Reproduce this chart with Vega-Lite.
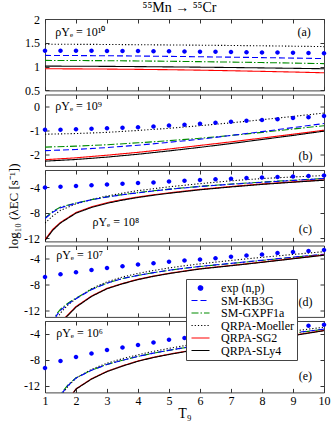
{
"$schema": "https://vega.github.io/schema/vega-lite/v6.json",
"padding": {"left": 6, "top": 0, "right": 4, "bottom": 2},
"title": {"text": "⁵⁵Mn → ⁵⁵Cr", "anchor": "middle", "frame": "group", "fontSize": 14, "fontWeight": "normal", "font": "Liberation Serif", "offset": -2, "dx": -5, "color": "black"},
"bounds": "flush",
"spacing": 3.5,
"data": {"values": [
{"panel":"a","series":"exp (n,p)","T9":1,"v":1.335},{"panel":"a","series":"exp (n,p)","T9":1.5,"v":1.335},{"panel":"a","series":"exp (n,p)","T9":2,"v":1.333},{"panel":"a","series":"exp (n,p)","T9":2.5,"v":1.332},{"panel":"a","series":"exp (n,p)","T9":3,"v":1.33},{"panel":"a","series":"exp (n,p)","T9":3.5,"v":1.328},{"panel":"a","series":"exp (n,p)","T9":4,"v":1.326},{"panel":"a","series":"exp (n,p)","T9":4.5,"v":1.323},{"panel":"a","series":"exp (n,p)","T9":5,"v":1.32},{"panel":"a","series":"exp (n,p)","T9":5.5,"v":1.317},{"panel":"a","series":"exp (n,p)","T9":6,"v":1.313},{"panel":"a","series":"exp (n,p)","T9":6.5,"v":1.31},{"panel":"a","series":"exp (n,p)","T9":7,"v":1.306},{"panel":"a","series":"exp (n,p)","T9":7.5,"v":1.302},{"panel":"a","series":"exp (n,p)","T9":8,"v":1.298},{"panel":"a","series":"exp (n,p)","T9":8.5,"v":1.294},{"panel":"a","series":"exp (n,p)","T9":9,"v":1.29},{"panel":"a","series":"exp (n,p)","T9":9.5,"v":1.285},{"panel":"a","series":"exp (n,p)","T9":10,"v":1.28},
{"panel":"a","series":"QRPA-Moeller","T9":1,"v":1.47},{"panel":"a","series":"QRPA-Moeller","T9":2,"v":1.468},{"panel":"a","series":"QRPA-Moeller","T9":3,"v":1.465},{"panel":"a","series":"QRPA-Moeller","T9":4,"v":1.46},{"panel":"a","series":"QRPA-Moeller","T9":5,"v":1.455},{"panel":"a","series":"QRPA-Moeller","T9":6,"v":1.45},{"panel":"a","series":"QRPA-Moeller","T9":7,"v":1.444},{"panel":"a","series":"QRPA-Moeller","T9":8,"v":1.437},{"panel":"a","series":"QRPA-Moeller","T9":9,"v":1.429},{"panel":"a","series":"QRPA-Moeller","T9":10,"v":1.42},
{"panel":"a","series":"SM-GXPF1a","T9":1,"v":1.13},{"panel":"a","series":"SM-GXPF1a","T9":2,"v":1.128},{"panel":"a","series":"SM-GXPF1a","T9":3,"v":1.124},{"panel":"a","series":"SM-GXPF1a","T9":4,"v":1.119},{"panel":"a","series":"SM-GXPF1a","T9":5,"v":1.112},{"panel":"a","series":"SM-GXPF1a","T9":6,"v":1.104},{"panel":"a","series":"SM-GXPF1a","T9":7,"v":1.095},{"panel":"a","series":"SM-GXPF1a","T9":8,"v":1.085},{"panel":"a","series":"SM-GXPF1a","T9":9,"v":1.074},{"panel":"a","series":"SM-GXPF1a","T9":10,"v":1.062},
{"panel":"a","series":"SM-KB3G","T9":1,"v":1.235},{"panel":"a","series":"SM-KB3G","T9":2,"v":1.232},{"panel":"a","series":"SM-KB3G","T9":3,"v":1.228},{"panel":"a","series":"SM-KB3G","T9":4,"v":1.222},{"panel":"a","series":"SM-KB3G","T9":5,"v":1.215},{"panel":"a","series":"SM-KB3G","T9":6,"v":1.207},{"panel":"a","series":"SM-KB3G","T9":7,"v":1.198},{"panel":"a","series":"SM-KB3G","T9":8,"v":1.189},{"panel":"a","series":"SM-KB3G","T9":9,"v":1.179},{"panel":"a","series":"SM-KB3G","T9":10,"v":1.168},
{"panel":"a","series":"QRPA-SG2","T9":1,"v":0.955},{"panel":"a","series":"QRPA-SG2","T9":2,"v":0.952},{"panel":"a","series":"QRPA-SG2","T9":3,"v":0.948},{"panel":"a","series":"QRPA-SG2","T9":4,"v":0.942},{"panel":"a","series":"QRPA-SG2","T9":5,"v":0.935},{"panel":"a","series":"QRPA-SG2","T9":6,"v":0.925},{"panel":"a","series":"QRPA-SG2","T9":7,"v":0.913},{"panel":"a","series":"QRPA-SG2","T9":8,"v":0.9},{"panel":"a","series":"QRPA-SG2","T9":9,"v":0.886},{"panel":"a","series":"QRPA-SG2","T9":10,"v":0.87},
{"panel":"a","series":"QRPA-SLy4","T9":1,"v":1.01},{"panel":"a","series":"QRPA-SLy4","T9":2,"v":1.008},{"panel":"a","series":"QRPA-SLy4","T9":3,"v":1.005},{"panel":"a","series":"QRPA-SLy4","T9":4,"v":1.0},{"panel":"a","series":"QRPA-SLy4","T9":5,"v":0.994},{"panel":"a","series":"QRPA-SLy4","T9":6,"v":0.988},{"panel":"a","series":"QRPA-SLy4","T9":7,"v":0.981},{"panel":"a","series":"QRPA-SLy4","T9":8,"v":0.973},{"panel":"a","series":"QRPA-SLy4","T9":9,"v":0.964},{"panel":"a","series":"QRPA-SLy4","T9":10,"v":0.955},

{"panel":"b","series":"exp (n,p)","T9":1,"v":-0.986},{"panel":"b","series":"exp (n,p)","T9":1.5,"v":-0.986},{"panel":"b","series":"exp (n,p)","T9":2,"v":-0.957},{"panel":"b","series":"exp (n,p)","T9":2.5,"v":-0.943},{"panel":"b","series":"exp (n,p)","T9":3,"v":-0.914},{"panel":"b","series":"exp (n,p)","T9":3.5,"v":-0.9},{"panel":"b","series":"exp (n,p)","T9":4,"v":-0.871},{"panel":"b","series":"exp (n,p)","T9":4.5,"v":-0.843},{"panel":"b","series":"exp (n,p)","T9":5,"v":-0.8},{"panel":"b","series":"exp (n,p)","T9":5.5,"v":-0.771},{"panel":"b","series":"exp (n,p)","T9":6,"v":-0.729},{"panel":"b","series":"exp (n,p)","T9":6.5,"v":-0.686},{"panel":"b","series":"exp (n,p)","T9":7,"v":-0.643},{"panel":"b","series":"exp (n,p)","T9":7.5,"v":-0.6},{"panel":"b","series":"exp (n,p)","T9":8,"v":-0.571},{"panel":"b","series":"exp (n,p)","T9":8.5,"v":-0.543},{"panel":"b","series":"exp (n,p)","T9":9,"v":-0.486},{"panel":"b","series":"exp (n,p)","T9":9.5,"v":-0.457},{"panel":"b","series":"exp (n,p)","T9":10,"v":-0.4},
{"panel":"b","series":"QRPA-Moeller","T9":1,"v":-1.17},{"panel":"b","series":"QRPA-Moeller","T9":2,"v":-1.14},{"panel":"b","series":"QRPA-Moeller","T9":3,"v":-1.09},{"panel":"b","series":"QRPA-Moeller","T9":4,"v":-1.01},{"panel":"b","series":"QRPA-Moeller","T9":5,"v":-0.92},{"panel":"b","series":"QRPA-Moeller","T9":6,"v":-0.81},{"panel":"b","series":"QRPA-Moeller","T9":7,"v":-0.69},{"panel":"b","series":"QRPA-Moeller","T9":8,"v":-0.56},{"panel":"b","series":"QRPA-Moeller","T9":9,"v":-0.42},{"panel":"b","series":"QRPA-Moeller","T9":10,"v":-0.28},
{"panel":"b","series":"SM-GXPF1a","T9":1,"v":-1.71},{"panel":"b","series":"SM-GXPF1a","T9":2,"v":-1.67},{"panel":"b","series":"SM-GXPF1a","T9":3,"v":-1.61},{"panel":"b","series":"SM-GXPF1a","T9":4,"v":-1.53},{"panel":"b","series":"SM-GXPF1a","T9":5,"v":-1.44},{"panel":"b","series":"SM-GXPF1a","T9":6,"v":-1.34},{"panel":"b","series":"SM-GXPF1a","T9":7,"v":-1.22},{"panel":"b","series":"SM-GXPF1a","T9":8,"v":-1.09},{"panel":"b","series":"SM-GXPF1a","T9":9,"v":-0.95},{"panel":"b","series":"SM-GXPF1a","T9":10,"v":-0.81},
{"panel":"b","series":"SM-KB3G","T9":1,"v":-1.86},{"panel":"b","series":"SM-KB3G","T9":2,"v":-1.81},{"panel":"b","series":"SM-KB3G","T9":3,"v":-1.73},{"panel":"b","series":"SM-KB3G","T9":4,"v":-1.63},{"panel":"b","series":"SM-KB3G","T9":5,"v":-1.51},{"panel":"b","series":"SM-KB3G","T9":6,"v":-1.38},{"panel":"b","series":"SM-KB3G","T9":7,"v":-1.22},{"panel":"b","series":"SM-KB3G","T9":8,"v":-1.06},{"panel":"b","series":"SM-KB3G","T9":9,"v":-0.89},{"panel":"b","series":"SM-KB3G","T9":10,"v":-0.72},
{"panel":"b","series":"QRPA-SG2","T9":1,"v":-2.24},{"panel":"b","series":"QRPA-SG2","T9":2,"v":-2.16},{"panel":"b","series":"QRPA-SG2","T9":3,"v":-2.05},{"panel":"b","series":"QRPA-SG2","T9":4,"v":-1.93},{"panel":"b","series":"QRPA-SG2","T9":5,"v":-1.79},{"panel":"b","series":"QRPA-SG2","T9":6,"v":-1.64},{"panel":"b","series":"QRPA-SG2","T9":7,"v":-1.49},{"panel":"b","series":"QRPA-SG2","T9":8,"v":-1.33},{"panel":"b","series":"QRPA-SG2","T9":9,"v":-1.17},{"panel":"b","series":"QRPA-SG2","T9":10,"v":-1.0},
{"panel":"b","series":"QRPA-SLy4","T9":1,"v":-2.3},{"panel":"b","series":"QRPA-SLy4","T9":2,"v":-2.23},{"panel":"b","series":"QRPA-SLy4","T9":3,"v":-2.13},{"panel":"b","series":"QRPA-SLy4","T9":4,"v":-2.01},{"panel":"b","series":"QRPA-SLy4","T9":5,"v":-1.87},{"panel":"b","series":"QRPA-SLy4","T9":6,"v":-1.72},{"panel":"b","series":"QRPA-SLy4","T9":7,"v":-1.56},{"panel":"b","series":"QRPA-SLy4","T9":8,"v":-1.39},{"panel":"b","series":"QRPA-SLy4","T9":9,"v":-1.22},{"panel":"b","series":"QRPA-SLy4","T9":10,"v":-1.04},

{"panel":"c","series":"exp (n,p)","T9":1,"v":-4.0},{"panel":"c","series":"exp (n,p)","T9":1.5,"v":-3.9},{"panel":"c","series":"exp (n,p)","T9":2,"v":-3.78},{"panel":"c","series":"exp (n,p)","T9":2.5,"v":-3.66},{"panel":"c","series":"exp (n,p)","T9":3,"v":-3.55},{"panel":"c","series":"exp (n,p)","T9":3.5,"v":-3.4},{"panel":"c","series":"exp (n,p)","T9":4,"v":-3.3},{"panel":"c","series":"exp (n,p)","T9":4.5,"v":-3.2},{"panel":"c","series":"exp (n,p)","T9":5,"v":-3.05},{"panel":"c","series":"exp (n,p)","T9":5.5,"v":-2.94},{"panel":"c","series":"exp (n,p)","T9":6,"v":-2.83},{"panel":"c","series":"exp (n,p)","T9":6.5,"v":-2.72},{"panel":"c","series":"exp (n,p)","T9":7,"v":-2.62},{"panel":"c","series":"exp (n,p)","T9":7.5,"v":-2.51},{"panel":"c","series":"exp (n,p)","T9":8,"v":-2.44},{"panel":"c","series":"exp (n,p)","T9":8.5,"v":-2.35},{"panel":"c","series":"exp (n,p)","T9":9,"v":-2.28},{"panel":"c","series":"exp (n,p)","T9":9.5,"v":-2.18},{"panel":"c","series":"exp (n,p)","T9":10,"v":-2.12},
{"panel":"c","series":"QRPA-Moeller","T9":1,"v":-9.6},{"panel":"c","series":"QRPA-Moeller","T9":1.25,"v":-8.5},{"panel":"c","series":"QRPA-Moeller","T9":1.5,"v":-7.6},{"panel":"c","series":"QRPA-Moeller","T9":2,"v":-6.6},{"panel":"c","series":"QRPA-Moeller","T9":2.5,"v":-5.9},{"panel":"c","series":"QRPA-Moeller","T9":3,"v":-5.35},{"panel":"c","series":"QRPA-Moeller","T9":3.5,"v":-4.9},{"panel":"c","series":"QRPA-Moeller","T9":4,"v":-4.5},{"panel":"c","series":"QRPA-Moeller","T9":4.5,"v":-4.2},{"panel":"c","series":"QRPA-Moeller","T9":5,"v":-3.9},{"panel":"c","series":"QRPA-Moeller","T9":6,"v":-3.4},{"panel":"c","series":"QRPA-Moeller","T9":7,"v":-2.95},{"panel":"c","series":"QRPA-Moeller","T9":8,"v":-2.6},{"panel":"c","series":"QRPA-Moeller","T9":9,"v":-2.35},{"panel":"c","series":"QRPA-Moeller","T9":10,"v":-2.12},
{"panel":"c","series":"SM-GXPF1a","T9":1,"v":-8.8},{"panel":"c","series":"SM-GXPF1a","T9":1.25,"v":-7.8},{"panel":"c","series":"SM-GXPF1a","T9":1.5,"v":-7.1},{"panel":"c","series":"SM-GXPF1a","T9":2,"v":-6.45},{"panel":"c","series":"SM-GXPF1a","T9":2.5,"v":-5.92},{"panel":"c","series":"SM-GXPF1a","T9":3,"v":-5.48},{"panel":"c","series":"SM-GXPF1a","T9":3.5,"v":-5.12},{"panel":"c","series":"SM-GXPF1a","T9":4,"v":-4.82},{"panel":"c","series":"SM-GXPF1a","T9":4.5,"v":-4.52},{"panel":"c","series":"SM-GXPF1a","T9":5,"v":-4.27},{"panel":"c","series":"SM-GXPF1a","T9":6,"v":-3.82},{"panel":"c","series":"SM-GXPF1a","T9":7,"v":-3.46},{"panel":"c","series":"SM-GXPF1a","T9":8,"v":-3.15},{"panel":"c","series":"SM-GXPF1a","T9":9,"v":-2.86},{"panel":"c","series":"SM-GXPF1a","T9":10,"v":-2.58},
{"panel":"c","series":"SM-KB3G","T9":1,"v":-8.9},{"panel":"c","series":"SM-KB3G","T9":1.25,"v":-7.9},{"panel":"c","series":"SM-KB3G","T9":1.5,"v":-7.2},{"panel":"c","series":"SM-KB3G","T9":2,"v":-6.5},{"panel":"c","series":"SM-KB3G","T9":2.5,"v":-5.95},{"panel":"c","series":"SM-KB3G","T9":3,"v":-5.5},{"panel":"c","series":"SM-KB3G","T9":3.5,"v":-5.15},{"panel":"c","series":"SM-KB3G","T9":4,"v":-4.85},{"panel":"c","series":"SM-KB3G","T9":4.5,"v":-4.55},{"panel":"c","series":"SM-KB3G","T9":5,"v":-4.3},{"panel":"c","series":"SM-KB3G","T9":6,"v":-3.85},{"panel":"c","series":"SM-KB3G","T9":7,"v":-3.5},{"panel":"c","series":"SM-KB3G","T9":8,"v":-3.2},{"panel":"c","series":"SM-KB3G","T9":9,"v":-2.9},{"panel":"c","series":"SM-KB3G","T9":10,"v":-2.6},
{"panel":"c","series":"QRPA-SG2","T9":1,"v":-12.2},{"panel":"c","series":"QRPA-SG2","T9":1.25,"v":-10.6},{"panel":"c","series":"QRPA-SG2","T9":1.5,"v":-9.5},{"panel":"c","series":"QRPA-SG2","T9":2,"v":-7.95},{"panel":"c","series":"QRPA-SG2","T9":2.5,"v":-7.05},{"panel":"c","series":"QRPA-SG2","T9":3,"v":-6.4},{"panel":"c","series":"QRPA-SG2","T9":3.5,"v":-5.9},{"panel":"c","series":"QRPA-SG2","T9":4,"v":-5.5},{"panel":"c","series":"QRPA-SG2","T9":4.5,"v":-5.15},{"panel":"c","series":"QRPA-SG2","T9":5,"v":-4.85},{"panel":"c","series":"QRPA-SG2","T9":6,"v":-4.3},{"panel":"c","series":"QRPA-SG2","T9":7,"v":-3.85},{"panel":"c","series":"QRPA-SG2","T9":8,"v":-3.45},{"panel":"c","series":"QRPA-SG2","T9":9,"v":-3.12},{"panel":"c","series":"QRPA-SG2","T9":10,"v":-2.8},
{"panel":"c","series":"QRPA-SLy4","T9":1,"v":-12.35},{"panel":"c","series":"QRPA-SLy4","T9":1.25,"v":-10.75},{"panel":"c","series":"QRPA-SLy4","T9":1.5,"v":-9.6},{"panel":"c","series":"QRPA-SLy4","T9":2,"v":-8.05},{"panel":"c","series":"QRPA-SLy4","T9":2.5,"v":-7.15},{"panel":"c","series":"QRPA-SLy4","T9":3,"v":-6.5},{"panel":"c","series":"QRPA-SLy4","T9":3.5,"v":-6.0},{"panel":"c","series":"QRPA-SLy4","T9":4,"v":-5.58},{"panel":"c","series":"QRPA-SLy4","T9":4.5,"v":-5.23},{"panel":"c","series":"QRPA-SLy4","T9":5,"v":-4.92},{"panel":"c","series":"QRPA-SLy4","T9":6,"v":-4.37},{"panel":"c","series":"QRPA-SLy4","T9":7,"v":-3.92},{"panel":"c","series":"QRPA-SLy4","T9":8,"v":-3.52},{"panel":"c","series":"QRPA-SLy4","T9":9,"v":-3.18},{"panel":"c","series":"QRPA-SLy4","T9":10,"v":-2.86},

{"panel":"d","series":"exp (n,p)","T9":1,"v":-6.85},{"panel":"d","series":"exp (n,p)","T9":1.5,"v":-6.44},{"panel":"d","series":"exp (n,p)","T9":2,"v":-6.12},{"panel":"d","series":"exp (n,p)","T9":2.5,"v":-5.76},{"panel":"d","series":"exp (n,p)","T9":3,"v":-5.45},{"panel":"d","series":"exp (n,p)","T9":3.5,"v":-5.19},{"panel":"d","series":"exp (n,p)","T9":4,"v":-4.93},{"panel":"d","series":"exp (n,p)","T9":4.5,"v":-4.73},{"panel":"d","series":"exp (n,p)","T9":5,"v":-4.52},{"panel":"d","series":"exp (n,p)","T9":5.5,"v":-4.31},{"panel":"d","series":"exp (n,p)","T9":6,"v":-4.16},{"panel":"d","series":"exp (n,p)","T9":6.5,"v":-3.95},{"panel":"d","series":"exp (n,p)","T9":7,"v":-3.74},{"panel":"d","series":"exp (n,p)","T9":7.5,"v":-3.53},{"panel":"d","series":"exp (n,p)","T9":8,"v":-3.38},{"panel":"d","series":"exp (n,p)","T9":8.5,"v":-3.17},{"panel":"d","series":"exp (n,p)","T9":9,"v":-3.02},{"panel":"d","series":"exp (n,p)","T9":9.5,"v":-2.86},{"panel":"d","series":"exp (n,p)","T9":10,"v":-2.7},
{"panel":"d","series":"QRPA-Moeller","T9":1.25,"v":-15},{"panel":"d","series":"QRPA-Moeller","T9":1.4,"v":-13.2},{"panel":"d","series":"QRPA-Moeller","T9":1.5,"v":-12.4},{"panel":"d","series":"QRPA-Moeller","T9":1.75,"v":-11.1},{"panel":"d","series":"QRPA-Moeller","T9":2,"v":-10.2},{"panel":"d","series":"QRPA-Moeller","T9":2.5,"v":-8.65},{"panel":"d","series":"QRPA-Moeller","T9":3,"v":-7.6},{"panel":"d","series":"QRPA-Moeller","T9":3.5,"v":-6.85},{"panel":"d","series":"QRPA-Moeller","T9":4,"v":-6.3},{"panel":"d","series":"QRPA-Moeller","T9":4.5,"v":-5.85},{"panel":"d","series":"QRPA-Moeller","T9":5,"v":-5.45},{"panel":"d","series":"QRPA-Moeller","T9":5.5,"v":-5.12},{"panel":"d","series":"QRPA-Moeller","T9":6,"v":-4.83},{"panel":"d","series":"QRPA-Moeller","T9":7,"v":-4.3},{"panel":"d","series":"QRPA-Moeller","T9":8,"v":-3.82},{"panel":"d","series":"QRPA-Moeller","T9":9,"v":-3.38},{"panel":"d","series":"QRPA-Moeller","T9":10,"v":-2.95},
{"panel":"d","series":"SM-GXPF1a","T9":1.25,"v":-14.2},{"panel":"d","series":"SM-GXPF1a","T9":1.37,"v":-12.6},{"panel":"d","series":"SM-GXPF1a","T9":1.5,"v":-11.8},{"panel":"d","series":"SM-GXPF1a","T9":1.75,"v":-10.85},{"panel":"d","series":"SM-GXPF1a","T9":2,"v":-10.1},{"panel":"d","series":"SM-GXPF1a","T9":2.5,"v":-8.75},{"panel":"d","series":"SM-GXPF1a","T9":3,"v":-7.78},{"panel":"d","series":"SM-GXPF1a","T9":3.5,"v":-7.1},{"panel":"d","series":"SM-GXPF1a","T9":4,"v":-6.6},{"panel":"d","series":"SM-GXPF1a","T9":4.5,"v":-6.18},{"panel":"d","series":"SM-GXPF1a","T9":5,"v":-5.82},{"panel":"d","series":"SM-GXPF1a","T9":5.5,"v":-5.51},{"panel":"d","series":"SM-GXPF1a","T9":6,"v":-5.24},{"panel":"d","series":"SM-GXPF1a","T9":7,"v":-4.78},{"panel":"d","series":"SM-GXPF1a","T9":8,"v":-4.3},{"panel":"d","series":"SM-GXPF1a","T9":9,"v":-3.83},{"panel":"d","series":"SM-GXPF1a","T9":10,"v":-3.38},
{"panel":"d","series":"SM-KB3G","T9":1.25,"v":-14.5},{"panel":"d","series":"SM-KB3G","T9":1.37,"v":-12.8},{"panel":"d","series":"SM-KB3G","T9":1.5,"v":-12.0},{"panel":"d","series":"SM-KB3G","T9":1.75,"v":-11.0},{"panel":"d","series":"SM-KB3G","T9":2,"v":-10.2},{"panel":"d","series":"SM-KB3G","T9":2.5,"v":-8.8},{"panel":"d","series":"SM-KB3G","T9":3,"v":-7.8},{"panel":"d","series":"SM-KB3G","T9":3.5,"v":-7.1},{"panel":"d","series":"SM-KB3G","T9":4,"v":-6.6},{"panel":"d","series":"SM-KB3G","T9":4.5,"v":-6.18},{"panel":"d","series":"SM-KB3G","T9":5,"v":-5.81},{"panel":"d","series":"SM-KB3G","T9":5.5,"v":-5.5},{"panel":"d","series":"SM-KB3G","T9":6,"v":-5.22},{"panel":"d","series":"SM-KB3G","T9":7,"v":-4.75},{"panel":"d","series":"SM-KB3G","T9":8,"v":-4.27},{"panel":"d","series":"SM-KB3G","T9":9,"v":-3.8},{"panel":"d","series":"SM-KB3G","T9":10,"v":-3.35},
{"panel":"d","series":"QRPA-SG2","T9":1.5,"v":-14.2},{"panel":"d","series":"QRPA-SG2","T9":1.65,"v":-13.1},{"panel":"d","series":"QRPA-SG2","T9":2,"v":-11.4},{"panel":"d","series":"QRPA-SG2","T9":2.5,"v":-9.78},{"panel":"d","series":"QRPA-SG2","T9":3,"v":-8.6},{"panel":"d","series":"QRPA-SG2","T9":3.5,"v":-7.84},{"panel":"d","series":"QRPA-SG2","T9":4,"v":-7.2},{"panel":"d","series":"QRPA-SG2","T9":4.5,"v":-6.7},{"panel":"d","series":"QRPA-SG2","T9":5,"v":-6.28},{"panel":"d","series":"QRPA-SG2","T9":5.5,"v":-5.92},{"panel":"d","series":"QRPA-SG2","T9":6,"v":-5.57},{"panel":"d","series":"QRPA-SG2","T9":7,"v":-5.07},{"panel":"d","series":"QRPA-SG2","T9":8,"v":-4.55},{"panel":"d","series":"QRPA-SG2","T9":9,"v":-4.0},{"panel":"d","series":"QRPA-SG2","T9":10,"v":-3.45},
{"panel":"d","series":"QRPA-SLy4","T9":1.5,"v":-14.3},{"panel":"d","series":"QRPA-SLy4","T9":1.65,"v":-13.2},{"panel":"d","series":"QRPA-SLy4","T9":2,"v":-11.5},{"panel":"d","series":"QRPA-SLy4","T9":2.5,"v":-9.85},{"panel":"d","series":"QRPA-SLy4","T9":3,"v":-8.66},{"panel":"d","series":"QRPA-SLy4","T9":3.5,"v":-7.9},{"panel":"d","series":"QRPA-SLy4","T9":4,"v":-7.26},{"panel":"d","series":"QRPA-SLy4","T9":4.5,"v":-6.75},{"panel":"d","series":"QRPA-SLy4","T9":5,"v":-6.33},{"panel":"d","series":"QRPA-SLy4","T9":5.5,"v":-5.97},{"panel":"d","series":"QRPA-SLy4","T9":6,"v":-5.62},{"panel":"d","series":"QRPA-SLy4","T9":7,"v":-5.12},{"panel":"d","series":"QRPA-SLy4","T9":8,"v":-4.6},{"panel":"d","series":"QRPA-SLy4","T9":9,"v":-4.05},{"panel":"d","series":"QRPA-SLy4","T9":10,"v":-3.5},

{"panel":"e","series":"exp (n,p)","T9":1,"v":-9.26},{"panel":"e","series":"exp (n,p)","T9":1.5,"v":-8.16},{"panel":"e","series":"exp (n,p)","T9":2,"v":-7.53},{"panel":"e","series":"exp (n,p)","T9":2.5,"v":-7.0},{"panel":"e","series":"exp (n,p)","T9":3,"v":-6.47},{"panel":"e","series":"exp (n,p)","T9":3.5,"v":-6.1},{"panel":"e","series":"exp (n,p)","T9":4,"v":-5.68},{"panel":"e","series":"exp (n,p)","T9":4.5,"v":-5.32},{"panel":"e","series":"exp (n,p)","T9":5,"v":-4.9},{"panel":"e","series":"exp (n,p)","T9":5.5,"v":-4.63},{"panel":"e","series":"exp (n,p)","T9":6,"v":-4.36},{"panel":"e","series":"exp (n,p)","T9":6.5,"v":-4.1},{"panel":"e","series":"exp (n,p)","T9":7,"v":-3.85},{"panel":"e","series":"exp (n,p)","T9":7.5,"v":-3.6},{"panel":"e","series":"exp (n,p)","T9":8,"v":-3.38},{"panel":"e","series":"exp (n,p)","T9":8.5,"v":-3.16},{"panel":"e","series":"exp (n,p)","T9":9,"v":-2.95},{"panel":"e","series":"exp (n,p)","T9":9.5,"v":-2.74},{"panel":"e","series":"exp (n,p)","T9":10,"v":-2.58},
{"panel":"e","series":"QRPA-Moeller","T9":1.4,"v":-14.8},{"panel":"e","series":"QRPA-Moeller","T9":1.55,"v":-13.3},{"panel":"e","series":"QRPA-Moeller","T9":1.75,"v":-12.0},{"panel":"e","series":"QRPA-Moeller","T9":2,"v":-10.8},{"panel":"e","series":"QRPA-Moeller","T9":2.5,"v":-9.45},{"panel":"e","series":"QRPA-Moeller","T9":3,"v":-8.5},{"panel":"e","series":"QRPA-Moeller","T9":3.5,"v":-7.8},{"panel":"e","series":"QRPA-Moeller","T9":4,"v":-7.2},{"panel":"e","series":"QRPA-Moeller","T9":4.5,"v":-6.68},{"panel":"e","series":"QRPA-Moeller","T9":5,"v":-6.22},{"panel":"e","series":"QRPA-Moeller","T9":5.5,"v":-5.8},{"panel":"e","series":"QRPA-Moeller","T9":6,"v":-5.42},{"panel":"e","series":"QRPA-Moeller","T9":7,"v":-4.75},{"panel":"e","series":"QRPA-Moeller","T9":8,"v":-4.15},{"panel":"e","series":"QRPA-Moeller","T9":9,"v":-3.55},{"panel":"e","series":"QRPA-Moeller","T9":10,"v":-2.95},
{"panel":"e","series":"SM-GXPF1a","T9":1.4,"v":-14.3},{"panel":"e","series":"SM-GXPF1a","T9":1.55,"v":-13.0},{"panel":"e","series":"SM-GXPF1a","T9":1.75,"v":-11.8},{"panel":"e","series":"SM-GXPF1a","T9":2,"v":-10.75},{"panel":"e","series":"SM-GXPF1a","T9":2.5,"v":-9.58},{"panel":"e","series":"SM-GXPF1a","T9":3,"v":-8.68},{"panel":"e","series":"SM-GXPF1a","T9":3.5,"v":-8.05},{"panel":"e","series":"SM-GXPF1a","T9":4,"v":-7.45},{"panel":"e","series":"SM-GXPF1a","T9":4.5,"v":-6.96},{"panel":"e","series":"SM-GXPF1a","T9":5,"v":-6.52},{"panel":"e","series":"SM-GXPF1a","T9":5.5,"v":-6.12},{"panel":"e","series":"SM-GXPF1a","T9":6,"v":-5.75},{"panel":"e","series":"SM-GXPF1a","T9":7,"v":-5.08},{"panel":"e","series":"SM-GXPF1a","T9":8,"v":-4.48},{"panel":"e","series":"SM-GXPF1a","T9":9,"v":-3.88},{"panel":"e","series":"SM-GXPF1a","T9":10,"v":-3.28},
{"panel":"e","series":"SM-KB3G","T9":1.4,"v":-14.5},{"panel":"e","series":"SM-KB3G","T9":1.55,"v":-13.1},{"panel":"e","series":"SM-KB3G","T9":1.75,"v":-11.9},{"panel":"e","series":"SM-KB3G","T9":2,"v":-10.8},{"panel":"e","series":"SM-KB3G","T9":2.5,"v":-9.6},{"panel":"e","series":"SM-KB3G","T9":3,"v":-8.7},{"panel":"e","series":"SM-KB3G","T9":3.5,"v":-8.05},{"panel":"e","series":"SM-KB3G","T9":4,"v":-7.45},{"panel":"e","series":"SM-KB3G","T9":4.5,"v":-6.95},{"panel":"e","series":"SM-KB3G","T9":5,"v":-6.5},{"panel":"e","series":"SM-KB3G","T9":5.5,"v":-6.1},{"panel":"e","series":"SM-KB3G","T9":6,"v":-5.72},{"panel":"e","series":"SM-KB3G","T9":7,"v":-5.05},{"panel":"e","series":"SM-KB3G","T9":8,"v":-4.45},{"panel":"e","series":"SM-KB3G","T9":9,"v":-3.85},{"panel":"e","series":"SM-KB3G","T9":10,"v":-3.25},
{"panel":"e","series":"QRPA-SG2","T9":1.75,"v":-14.15},{"panel":"e","series":"QRPA-SG2","T9":2,"v":-12.45},{"panel":"e","series":"QRPA-SG2","T9":2.5,"v":-10.9},{"panel":"e","series":"QRPA-SG2","T9":3,"v":-9.75},{"panel":"e","series":"QRPA-SG2","T9":3.5,"v":-8.9},{"panel":"e","series":"QRPA-SG2","T9":4,"v":-8.15},{"panel":"e","series":"QRPA-SG2","T9":4.5,"v":-7.58},{"panel":"e","series":"QRPA-SG2","T9":5,"v":-7.11},{"panel":"e","series":"QRPA-SG2","T9":5.5,"v":-6.69},{"panel":"e","series":"QRPA-SG2","T9":6,"v":-6.3},{"panel":"e","series":"QRPA-SG2","T9":7,"v":-5.63},{"panel":"e","series":"QRPA-SG2","T9":8,"v":-4.93},{"panel":"e","series":"QRPA-SG2","T9":9,"v":-4.2},{"panel":"e","series":"QRPA-SG2","T9":10,"v":-3.45},
{"panel":"e","series":"QRPA-SLy4","T9":1.75,"v":-14.2},{"panel":"e","series":"QRPA-SLy4","T9":2,"v":-12.5},{"panel":"e","series":"QRPA-SLy4","T9":2.5,"v":-10.95},{"panel":"e","series":"QRPA-SLy4","T9":3,"v":-9.8},{"panel":"e","series":"QRPA-SLy4","T9":3.5,"v":-8.95},{"panel":"e","series":"QRPA-SLy4","T9":4,"v":-8.2},{"panel":"e","series":"QRPA-SLy4","T9":4.5,"v":-7.63},{"panel":"e","series":"QRPA-SLy4","T9":5,"v":-7.16},{"panel":"e","series":"QRPA-SLy4","T9":5.5,"v":-6.74},{"panel":"e","series":"QRPA-SLy4","T9":6,"v":-6.35},{"panel":"e","series":"QRPA-SLy4","T9":7,"v":-5.68},{"panel":"e","series":"QRPA-SLy4","T9":8,"v":-4.98},{"panel":"e","series":"QRPA-SLy4","T9":9,"v":-4.25},{"panel":"e","series":"QRPA-SLy4","T9":10,"v":-3.5}
]},
"vconcat": [
{"width": 279, "height": 71.4,
 "layer": [
  {"transform": [{"filter": "datum.panel === 'a' && datum.series !== 'exp (n,p)'"}],
   "mark": {"type": "line", "clip": true, "strokeWidth": 1.1},
   "encoding": {
    "x": {"field": "T9", "type": "quantitative", "scale": {"domain": [1, 10], "nice": false, "zero": false}, "axis": {"orient": "top", "values": [1,2,3,4,5,6,7,8,9,10], "labels": false, "title": null}},
    "y": {"field": "v", "type": "quantitative", "scale": {"domain": [0.5, 2], "nice": false, "zero": false}, "axis": {"orient": "right", "values": [0.5,1,1.5,2], "labels": false, "title": null}},
    "color": {"field": "series", "type": "nominal", "title": null, "scale": {"domain": ["exp (n,p)","SM-KB3G","SM-GXPF1a","QRPA-Moeller","QRPA-SG2","QRPA-SLy4"], "range": ["#0000ff","#0000ff","#008b00","#000000","#ff0000","#000000"]}, "legend": {"encode": {"symbols": {"update": {"shape": {"scale": "shape", "field": "value"}, "stroke": {"signal": "datum.value === 'exp (n,p)' ? 'transparent' : scale('color', datum.value)"}, "fill": {"signal": "datum.value === 'exp (n,p)' ? scale('color', datum.value) : 'transparent'"}, "strokeDash": {"signal": "scale('strokeDash', datum.value)"}, "opacity": {"value": 1}}}}}},
    "strokeDash": {"field": "series", "type": "nominal", "title": null, "scale": {"domain": ["exp (n,p)","SM-KB3G","SM-GXPF1a","QRPA-Moeller","QRPA-SG2","QRPA-SLy4"], "range": [[1,0],[6,3],[7,2,1.5,2],[1.2,2],[1,0],[1,0]]}}
   }},
  {"transform": [{"filter": "datum.panel === 'a' && datum.series === 'exp (n,p)'"}],
   "mark": {"type": "point", "filled": true, "opacity": 1, "size": 81, "strokeWidth": 0},
   "encoding": {
    "x": {"field": "T9", "type": "quantitative", "scale": {"domain": [1, 10], "nice": false, "zero": false}, "axis": {"orient": "bottom", "values": [1,2,3,4,5,6,7,8,9,10], "labels": false, "title": null}},
    "y": {"field": "v", "type": "quantitative", "scale": {"domain": [0.5, 2], "nice": false, "zero": false}, "axis": {"orient": "left", "values": [0.5,1,1.5,2], "labelExpr": "'' + datum.value", "title": null}},
    "color": {"field": "series", "type": "nominal", "title": null, "scale": {"domain": ["exp (n,p)","SM-KB3G","SM-GXPF1a","QRPA-Moeller","QRPA-SG2","QRPA-SLy4"], "range": ["#0000ff","#0000ff","#008b00","#000000","#ff0000","#000000"]}},
    "shape": {"field": "series", "type": "nominal", "title": null, "scale": {"domain": ["exp (n,p)","SM-KB3G","SM-GXPF1a","QRPA-Moeller","QRPA-SG2","QRPA-SLy4"], "range": ["M-0.5,0A0.5,0.5,0,1,0,0.5,0A0.5,0.5,0,1,0,-0.5,0Z","M-2,0H2","M-2,0H2","M-2,0H2","M-2,0H2","M-2,0H2"]}}
   }},
  {"data": {"values": [{}]}, "mark": {"type": "text", "align": "left", "baseline": "middle", "fontSize": 12, "font": "Liberation Serif", "color": "black"},
   "encoding": {"x": {"datum": 1.33, "type": "quantitative", "axis": null}, "y": {"datum": 1.72, "type": "quantitative", "axis": null}, "text": {"value": "ρYₑ = 10¹⁰"}}},
  {"data": {"values": [{}]}, "mark": {"type": "text", "align": "center", "baseline": "middle", "fontSize": 12, "font": "Liberation Serif", "color": "black"},
   "encoding": {"x": {"datum": 9.36, "type": "quantitative", "axis": null}, "y": {"datum": 1.72, "type": "quantitative", "axis": null}, "text": {"value": "(a)"}}}
 ],
 "resolve": {"axis": {"x": "independent", "y": "independent"}}
},
{"width": 279, "height": 71.4,
 "layer": [
  {"transform": [{"filter": "datum.panel === 'b' && datum.series !== 'exp (n,p)'"}],
   "mark": {"type": "line", "clip": true, "strokeWidth": 1.1},
   "encoding": {
    "x": {"field": "T9", "type": "quantitative", "scale": {"domain": [1, 10], "nice": false, "zero": false}, "axis": {"orient": "top", "values": [1,2,3,4,5,6,7,8,9,10], "labels": false, "title": null}},
    "y": {"field": "v", "type": "quantitative", "scale": {"domain": [-2.5, 0.5], "nice": false, "zero": false}, "axis": {"orient": "right", "values": [-2,-1,0], "labels": false, "title": null}},
    "color": {"field": "series", "type": "nominal", "title": null, "scale": {"domain": ["exp (n,p)","SM-KB3G","SM-GXPF1a","QRPA-Moeller","QRPA-SG2","QRPA-SLy4"], "range": ["#0000ff","#0000ff","#008b00","#000000","#ff0000","#000000"]}, "legend": {"encode": {"symbols": {"update": {"shape": {"scale": "shape", "field": "value"}, "stroke": {"signal": "datum.value === 'exp (n,p)' ? 'transparent' : scale('color', datum.value)"}, "fill": {"signal": "datum.value === 'exp (n,p)' ? scale('color', datum.value) : 'transparent'"}, "strokeDash": {"signal": "scale('strokeDash', datum.value)"}, "opacity": {"value": 1}}}}}},
    "strokeDash": {"field": "series", "type": "nominal", "title": null, "scale": {"domain": ["exp (n,p)","SM-KB3G","SM-GXPF1a","QRPA-Moeller","QRPA-SG2","QRPA-SLy4"], "range": [[1,0],[6,3],[7,2,1.5,2],[1.2,2],[1,0],[1,0]]}}
   }},
  {"transform": [{"filter": "datum.panel === 'b' && datum.series === 'exp (n,p)'"}],
   "mark": {"type": "point", "filled": true, "opacity": 1, "size": 81, "strokeWidth": 0},
   "encoding": {
    "x": {"field": "T9", "type": "quantitative", "scale": {"domain": [1, 10], "nice": false, "zero": false}, "axis": {"orient": "bottom", "values": [1,2,3,4,5,6,7,8,9,10], "labels": false, "title": null}},
    "y": {"field": "v", "type": "quantitative", "scale": {"domain": [-2.5, 0.5], "nice": false, "zero": false}, "axis": {"orient": "left", "values": [-2,-1,0], "labelExpr": "'' + datum.value", "title": null}},
    "color": {"field": "series", "type": "nominal", "title": null, "scale": {"domain": ["exp (n,p)","SM-KB3G","SM-GXPF1a","QRPA-Moeller","QRPA-SG2","QRPA-SLy4"], "range": ["#0000ff","#0000ff","#008b00","#000000","#ff0000","#000000"]}},
    "shape": {"field": "series", "type": "nominal", "title": null, "scale": {"domain": ["exp (n,p)","SM-KB3G","SM-GXPF1a","QRPA-Moeller","QRPA-SG2","QRPA-SLy4"], "range": ["M-0.5,0A0.5,0.5,0,1,0,0.5,0A0.5,0.5,0,1,0,-0.5,0Z","M-2,0H2","M-2,0H2","M-2,0H2","M-2,0H2","M-2,0H2"]}}
   }},
  {"data": {"values": [{}]}, "mark": {"type": "text", "align": "left", "baseline": "middle", "fontSize": 12, "font": "Liberation Serif", "color": "black"},
   "encoding": {"x": {"datum": 1.33, "type": "quantitative", "axis": null}, "y": {"datum": 0.0, "type": "quantitative", "axis": null}, "text": {"value": "ρYₑ = 10⁹"}}},
  {"data": {"values": [{}]}, "mark": {"type": "text", "align": "center", "baseline": "middle", "fontSize": 12, "font": "Liberation Serif", "color": "black"},
   "encoding": {"x": {"datum": 9.4, "type": "quantitative", "axis": null}, "y": {"datum": -2.1, "type": "quantitative", "axis": null}, "text": {"value": "(b)"}}}
 ],
 "resolve": {"axis": {"x": "independent", "y": "independent"}}
},
{"width": 279, "height": 71.4,
 "layer": [
  {"transform": [{"filter": "datum.panel === 'c' && datum.series !== 'exp (n,p)'"}],
   "mark": {"type": "line", "clip": true, "strokeWidth": 1.1},
   "encoding": {
    "x": {"field": "T9", "type": "quantitative", "scale": {"domain": [1, 10], "nice": false, "zero": false}, "axis": {"orient": "top", "values": [1,2,3,4,5,6,7,8,9,10], "labels": false, "title": null}},
    "y": {"field": "v", "type": "quantitative", "scale": {"domain": [-12.5, -1.25], "nice": false, "zero": false}, "axis": {"orient": "right", "values": [-12,-8,-4], "labels": false, "title": null}},
    "color": {"field": "series", "type": "nominal", "title": null, "scale": {"domain": ["exp (n,p)","SM-KB3G","SM-GXPF1a","QRPA-Moeller","QRPA-SG2","QRPA-SLy4"], "range": ["#0000ff","#0000ff","#008b00","#000000","#ff0000","#000000"]}, "legend": {"encode": {"symbols": {"update": {"shape": {"scale": "shape", "field": "value"}, "stroke": {"signal": "datum.value === 'exp (n,p)' ? 'transparent' : scale('color', datum.value)"}, "fill": {"signal": "datum.value === 'exp (n,p)' ? scale('color', datum.value) : 'transparent'"}, "strokeDash": {"signal": "scale('strokeDash', datum.value)"}, "opacity": {"value": 1}}}}}},
    "strokeDash": {"field": "series", "type": "nominal", "title": null, "scale": {"domain": ["exp (n,p)","SM-KB3G","SM-GXPF1a","QRPA-Moeller","QRPA-SG2","QRPA-SLy4"], "range": [[1,0],[6,3],[7,2,1.5,2],[1.2,2],[1,0],[1,0]]}}
   }},
  {"transform": [{"filter": "datum.panel === 'c' && datum.series === 'exp (n,p)'"}],
   "mark": {"type": "point", "filled": true, "opacity": 1, "size": 81, "strokeWidth": 0},
   "encoding": {
    "x": {"field": "T9", "type": "quantitative", "scale": {"domain": [1, 10], "nice": false, "zero": false}, "axis": {"orient": "bottom", "values": [1,2,3,4,5,6,7,8,9,10], "labels": false, "title": null}},
    "y": {"field": "v", "type": "quantitative", "scale": {"domain": [-12.5, -1.25], "nice": false, "zero": false}, "axis": {"orient": "left", "values": [-12,-8,-4], "labelExpr": "'' + datum.value", "title": "log₁₀ (λEC [s⁻¹])", "titleFontSize": 13, "titlePadding": 2}},
    "color": {"field": "series", "type": "nominal", "title": null, "scale": {"domain": ["exp (n,p)","SM-KB3G","SM-GXPF1a","QRPA-Moeller","QRPA-SG2","QRPA-SLy4"], "range": ["#0000ff","#0000ff","#008b00","#000000","#ff0000","#000000"]}},
    "shape": {"field": "series", "type": "nominal", "title": null, "scale": {"domain": ["exp (n,p)","SM-KB3G","SM-GXPF1a","QRPA-Moeller","QRPA-SG2","QRPA-SLy4"], "range": ["M-0.5,0A0.5,0.5,0,1,0,0.5,0A0.5,0.5,0,1,0,-0.5,0Z","M-2,0H2","M-2,0H2","M-2,0H2","M-2,0H2","M-2,0H2"]}}
   }},
  {"data": {"values": [{}]}, "mark": {"type": "text", "align": "left", "baseline": "middle", "fontSize": 12, "font": "Liberation Serif", "color": "black"},
   "encoding": {"x": {"datum": 2.53, "type": "quantitative", "axis": null}, "y": {"datum": -9.5, "type": "quantitative", "axis": null}, "text": {"value": "ρYₑ = 10⁸"}}},
  {"data": {"values": [{}]}, "mark": {"type": "text", "align": "center", "baseline": "middle", "fontSize": 12, "font": "Liberation Serif", "color": "black"},
   "encoding": {"x": {"datum": 9.4, "type": "quantitative", "axis": null}, "y": {"datum": -10.6, "type": "quantitative", "axis": null}, "text": {"value": "(c)"}}}
 ],
 "resolve": {"axis": {"x": "independent", "y": "independent"}}
},
{"width": 279, "height": 71.4,
 "layer": [
  {"transform": [{"filter": "datum.panel === 'd' && datum.series !== 'exp (n,p)'"}],
   "mark": {"type": "line", "clip": true, "strokeWidth": 1.1},
   "encoding": {
    "x": {"field": "T9", "type": "quantitative", "scale": {"domain": [1, 10], "nice": false, "zero": false}, "axis": {"orient": "top", "values": [1,2,3,4,5,6,7,8,9,10], "labels": false, "title": null}},
    "y": {"field": "v", "type": "quantitative", "scale": {"domain": [-13, -2], "nice": false, "zero": false}, "axis": {"orient": "right", "values": [-12,-8,-4], "labels": false, "title": null}},
    "color": {"field": "series", "type": "nominal", "title": null, "scale": {"domain": ["exp (n,p)","SM-KB3G","SM-GXPF1a","QRPA-Moeller","QRPA-SG2","QRPA-SLy4"], "range": ["#0000ff","#0000ff","#008b00","#000000","#ff0000","#000000"]}, "legend": {"encode": {"symbols": {"update": {"shape": {"scale": "shape", "field": "value"}, "stroke": {"signal": "datum.value === 'exp (n,p)' ? 'transparent' : scale('color', datum.value)"}, "fill": {"signal": "datum.value === 'exp (n,p)' ? scale('color', datum.value) : 'transparent'"}, "strokeDash": {"signal": "scale('strokeDash', datum.value)"}, "opacity": {"value": 1}}}}}},
    "strokeDash": {"field": "series", "type": "nominal", "title": null, "scale": {"domain": ["exp (n,p)","SM-KB3G","SM-GXPF1a","QRPA-Moeller","QRPA-SG2","QRPA-SLy4"], "range": [[1,0],[6,3],[7,2,1.5,2],[1.2,2],[1,0],[1,0]]}}
   }},
  {"transform": [{"filter": "datum.panel === 'd' && datum.series === 'exp (n,p)'"}],
   "mark": {"type": "point", "filled": true, "opacity": 1, "size": 81, "strokeWidth": 0},
   "encoding": {
    "x": {"field": "T9", "type": "quantitative", "scale": {"domain": [1, 10], "nice": false, "zero": false}, "axis": {"orient": "bottom", "values": [1,2,3,4,5,6,7,8,9,10], "labels": false, "title": null}},
    "y": {"field": "v", "type": "quantitative", "scale": {"domain": [-13, -2], "nice": false, "zero": false}, "axis": {"orient": "left", "values": [-12,-8,-4], "labelExpr": "'' + datum.value", "title": null}},
    "color": {"field": "series", "type": "nominal", "title": null, "scale": {"domain": ["exp (n,p)","SM-KB3G","SM-GXPF1a","QRPA-Moeller","QRPA-SG2","QRPA-SLy4"], "range": ["#0000ff","#0000ff","#008b00","#000000","#ff0000","#000000"]}},
    "shape": {"field": "series", "type": "nominal", "title": null, "scale": {"domain": ["exp (n,p)","SM-KB3G","SM-GXPF1a","QRPA-Moeller","QRPA-SG2","QRPA-SLy4"], "range": ["M-0.5,0A0.5,0.5,0,1,0,0.5,0A0.5,0.5,0,1,0,-0.5,0Z","M-2,0H2","M-2,0H2","M-2,0H2","M-2,0H2","M-2,0H2"]}}
   }},
  {"data": {"values": [{}]}, "mark": {"type": "text", "align": "left", "baseline": "middle", "fontSize": 12, "font": "Liberation Serif", "color": "black"},
   "encoding": {"x": {"datum": 1.36, "type": "quantitative", "axis": null}, "y": {"datum": -3.5, "type": "quantitative", "axis": null}, "text": {"value": "ρYₑ = 10⁷"}}},
  {"data": {"values": [{}]}, "mark": {"type": "text", "align": "center", "baseline": "middle", "fontSize": 12, "font": "Liberation Serif", "color": "black"},
   "encoding": {"x": {"datum": 9.4, "type": "quantitative", "axis": null}, "y": {"datum": -10.7, "type": "quantitative", "axis": null}, "text": {"value": "(d)"}}}
 ],
 "resolve": {"axis": {"x": "independent", "y": "independent"}}
},
{"width": 279, "height": 71.4,
 "layer": [
  {"transform": [{"filter": "datum.panel === 'e' && datum.series !== 'exp (n,p)'"}],
   "mark": {"type": "line", "clip": true, "strokeWidth": 1.1},
   "encoding": {
    "x": {"field": "T9", "type": "quantitative", "scale": {"domain": [1, 10], "nice": false, "zero": false}, "axis": {"orient": "top", "values": [1,2,3,4,5,6,7,8,9,10], "labels": false, "title": null}},
    "y": {"field": "v", "type": "quantitative", "scale": {"domain": [-13, -2], "nice": false, "zero": false}, "axis": {"orient": "right", "values": [-12,-8,-4], "labels": false, "title": null}},
    "color": {"field": "series", "type": "nominal", "title": null, "scale": {"domain": ["exp (n,p)","SM-KB3G","SM-GXPF1a","QRPA-Moeller","QRPA-SG2","QRPA-SLy4"], "range": ["#0000ff","#0000ff","#008b00","#000000","#ff0000","#000000"]}, "legend": {"encode": {"symbols": {"update": {"shape": {"scale": "shape", "field": "value"}, "stroke": {"signal": "datum.value === 'exp (n,p)' ? 'transparent' : scale('color', datum.value)"}, "fill": {"signal": "datum.value === 'exp (n,p)' ? scale('color', datum.value) : 'transparent'"}, "strokeDash": {"signal": "scale('strokeDash', datum.value)"}, "opacity": {"value": 1}}}}}},
    "strokeDash": {"field": "series", "type": "nominal", "title": null, "scale": {"domain": ["exp (n,p)","SM-KB3G","SM-GXPF1a","QRPA-Moeller","QRPA-SG2","QRPA-SLy4"], "range": [[1,0],[6,3],[7,2,1.5,2],[1.2,2],[1,0],[1,0]]}}
   }},
  {"transform": [{"filter": "datum.panel === 'e' && datum.series === 'exp (n,p)'"}],
   "mark": {"type": "point", "filled": true, "opacity": 1, "size": 81, "strokeWidth": 0},
   "encoding": {
    "x": {"field": "T9", "type": "quantitative", "scale": {"domain": [1, 10], "nice": false, "zero": false}, "axis": {"orient": "bottom", "values": [1,2,3,4,5,6,7,8,9,10], "labelPadding": 7.5, "title": "T₉", "titleFontSize": 14, "titlePadding": 0}},
    "y": {"field": "v", "type": "quantitative", "scale": {"domain": [-13, -2], "nice": false, "zero": false}, "axis": {"orient": "left", "values": [-12,-8,-4], "labelExpr": "'' + datum.value", "title": null}},
    "color": {"field": "series", "type": "nominal", "title": null, "scale": {"domain": ["exp (n,p)","SM-KB3G","SM-GXPF1a","QRPA-Moeller","QRPA-SG2","QRPA-SLy4"], "range": ["#0000ff","#0000ff","#008b00","#000000","#ff0000","#000000"]}},
    "shape": {"field": "series", "type": "nominal", "title": null, "scale": {"domain": ["exp (n,p)","SM-KB3G","SM-GXPF1a","QRPA-Moeller","QRPA-SG2","QRPA-SLy4"], "range": ["M-0.5,0A0.5,0.5,0,1,0,0.5,0A0.5,0.5,0,1,0,-0.5,0Z","M-2,0H2","M-2,0H2","M-2,0H2","M-2,0H2","M-2,0H2"]}}
   }},
  {"data": {"values": [{}]}, "mark": {"type": "text", "align": "left", "baseline": "middle", "fontSize": 12, "font": "Liberation Serif", "color": "black"},
   "encoding": {"x": {"datum": 1.36, "type": "quantitative", "axis": null}, "y": {"datum": -3.85, "type": "quantitative", "axis": null}, "text": {"value": "ρYₑ = 10⁶"}}},
  {"data": {"values": [{}]}, "mark": {"type": "text", "align": "center", "baseline": "middle", "fontSize": 12, "font": "Liberation Serif", "color": "black"},
   "encoding": {"x": {"datum": 9.4, "type": "quantitative", "axis": null}, "y": {"datum": -10.5, "type": "quantitative", "axis": null}, "text": {"value": "(e)"}}}
 ],
 "resolve": {"axis": {"x": "independent", "y": "independent"}}
}
],
"config": {
 "view": {"stroke": "#444", "strokeWidth": 1},
 "font": "Liberation Serif",
 "axis": {"labelFont": "Liberation Serif", "labelFontSize": 12, "labelColor": "black", "titleFont": "Liberation Serif", "titleFontWeight": "normal", "titleColor": "black", "domain": false, "grid": false, "tickColor": "#333", "tickSize": -4, "labelPadding": 9.5, "labelFlush": false, "labelOverlap": false, "minExtent": 0},
 "axisLeft": {"minExtent": 23, "maxExtent": 23},
 "axisTop": {"maxExtent": 0},
 "axisRight": {"maxExtent": 0},
 "legend": {"orient": "none", "legendX": 141, "legendY": 260, "fillColor": "white", "strokeColor": "#444", "padding": 3, "rowPadding": 0.5, "symbolSize": 81, "symbolStrokeWidth": 1.2, "symbolOffset": 5.5, "labelOffset": 14.6, "labelFont": "Liberation Serif", "labelFontSize": 12, "labelColor": "black", "cornerRadius": 0, "zindex": 1}
}
}
